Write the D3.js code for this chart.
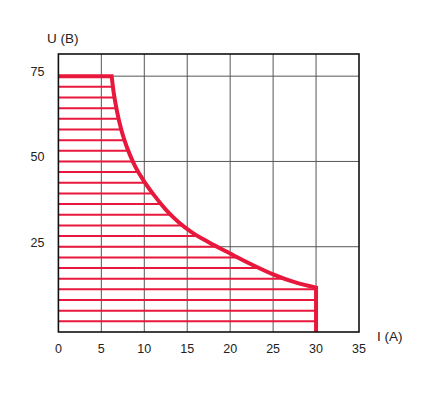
<!DOCTYPE html>
<html><head><meta charset="utf-8">
<script src="https://cdn.jsdelivr.net/npm/d3@7"></script>
<style>body{margin:0;background:#fff}svg{display:block}text{font-family:"Liberation Sans",Arial,sans-serif;fill:#222}</style>
</head><body>
<script>
const xTicks = [0,5,10,15,20,25,30,35];
const yTicks = [25,50,75];
const curveI = [6.2,6.45,6.8,7.3,8.0,8.85,10.0,11.2,12.5,14.0,15.5,17.5,20.0,22.5,25.0,27.5,30];
const curveU = [75,70,65,59.5,54,49,44.1,39.9,35.9,32.2,29.3,26.3,23.0,19.8,16.9,14.6,13.0];
const uMax = 75, iMax = 30, hatchCount = 24;
const hatchU = d3.range(1, hatchCount+1).map(k => k*uMax/hatchCount);

const W=430,H=414;
const svg = d3.select("body").append("svg").attr("width",W).attr("height",H);
const x = d3.scaleLinear().domain([0,35]).range([58.4,359]);
const y = d3.scaleLinear().domain([0,81.5]).range([332,54]);
const red = "#e8173c";

// grid
svg.append("g").selectAll("line").data(xTicks.filter(d=>d>0&&d<35)).join("line")
  .attr("x1",d=>x(d)).attr("x2",d=>x(d)).attr("y1",y(0)).attr("y2",y(81.5))
  .attr("stroke","#555").attr("stroke-width",1);
svg.append("g").selectAll("line").data(yTicks).join("line")
  .attr("y1",d=>y(d)).attr("y2",d=>y(d)).attr("x1",x(0)).attr("x2",x(35))
  .attr("stroke","#555").attr("stroke-width",1);

// region and clip
const pts = curveI.map((v,i)=>[v,curveU[i]]);
const line = d3.line().x(d=>x(d[0])).y(d=>y(d[1])).curve(d3.curveMonotoneX);
const clipD = "M"+x(0)+","+y(0)+"L"+x(0)+","+y(uMax)+"L"+line(pts).slice(1)+"L"+x(iMax)+","+y(0)+"Z";
svg.append("clipPath").attr("id","reg").append("path").attr("d",clipD);

svg.append("g").attr("clip-path","url(#reg)").selectAll("line").data(hatchU).join("line")
  .attr("x1",x(0)).attr("x2",x(iMax)).attr("y1",d=>y(d)).attr("y2",d=>y(d))
  .attr("stroke",red).attr("stroke-width",2);

// boundary
svg.append("path").attr("d","M"+x(0)+","+y(uMax)+"L"+line(pts).slice(1)+"L"+x(iMax)+","+y(0))
  .attr("fill","none").attr("stroke",red).attr("stroke-width",4).attr("stroke-linejoin","miter");

// frame
svg.append("rect").attr("x",x(0)).attr("y",y(81.5)).attr("width",x(35)-x(0)).attr("height",y(0)-y(81.5))
  .attr("fill","none").attr("stroke","#111").attr("stroke-width",1.6);

// tick labels
svg.append("g").selectAll("text").data(xTicks).join("text")
  .attr("x",d=>x(d)).attr("y",y(0)+21).attr("text-anchor","middle").attr("font-size",12.5).text(d=>d);
svg.append("g").selectAll("text").data(yTicks).join("text")
  .attr("x",44.5).attr("y",d=>y(d)).attr("text-anchor","end").attr("font-size",12.5).text(d=>d);

svg.append("text").attr("x",47).attr("y",42.5).attr("font-size",13.5).text("U (B)");
svg.append("text").attr("x",377).attr("y",341).attr("font-size",13.5).text("I (A)");
</script>
</body></html>
